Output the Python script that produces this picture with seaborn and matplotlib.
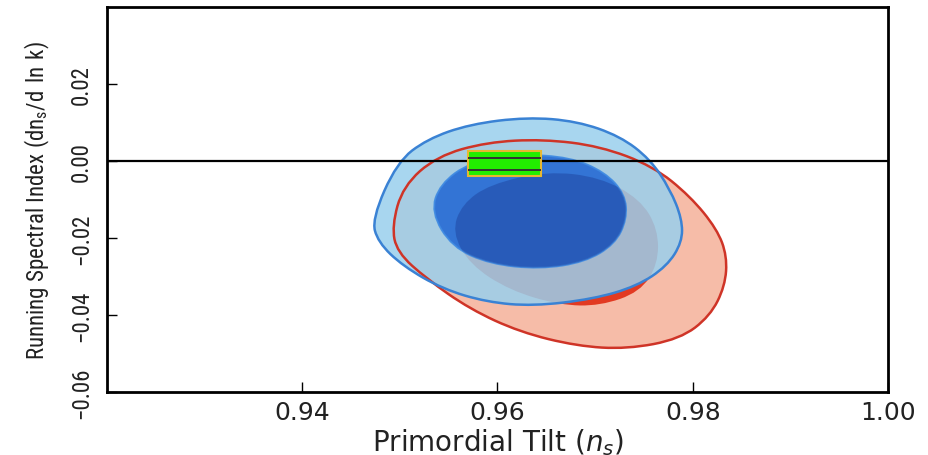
import numpy as np
import pandas as pd
import matplotlib
matplotlib.use("Agg")
import matplotlib.pyplot as plt
import seaborn as sns
from matplotlib import font_manager
from matplotlib.font_manager import FontProperties
from matplotlib.path import Path
from matplotlib.patches import PathPatch

# ---------------- data ----------------
# Red (data set A) 95% contour
red95_ns = [0.94919, 0.95032, 0.95380, 0.95892, 0.96466, 0.97050, 0.97593, 0.97972,
            0.98248, 0.98351, 0.98330, 0.98177, 0.97869, 0.97326, 0.96814, 0.96230,
            0.95718, 0.95278, 0.94971]
red95_run = [-0.01688, -0.00649, 0.00130, 0.00494, 0.00571, 0.00390, -0.00130, -0.00909,
             -0.01766, -0.02468, -0.03247, -0.04026, -0.04623, -0.04883, -0.04805, -0.04442,
             -0.03844, -0.03065, -0.02364]
# Red 68% contour
red68_ns = [0.95534, 0.95636, 0.95923, 0.96507, 0.97050, 0.97460, 0.97644, 0.97644,
            0.97460, 0.97050, 0.96640, 0.96128, 0.95718]
red68_run = [-0.01844, -0.01117, -0.00600, -0.00260, -0.00416, -0.00987, -0.01766, -0.02675,
             -0.03400, -0.03760, -0.03740, -0.03360, -0.02690]
# Blue (data set B) 95% contour
blue95_ns = [0.94714, 0.94971, 0.95278, 0.95718, 0.96302, 0.96814, 0.97255, 0.97562,
             0.97767, 0.97890, 0.97890, 0.97736, 0.97429, 0.96978, 0.96364, 0.95892,
             0.95442, 0.95032, 0.94776]
blue95_run = [-0.01506, -0.00026, 0.00571, 0.00961, 0.01143, 0.01039, 0.00649, 0.00052,
              -0.00727, -0.01506, -0.02104, -0.02727, -0.03247, -0.03584, -0.03766, -0.03662,
              -0.03325, -0.02727, -0.02104]
# Blue 68% contour
blue68_ns = [0.95319, 0.95411, 0.95718, 0.96230, 0.96743, 0.97101, 0.97306, 0.97326,
             0.97203, 0.96896, 0.96435, 0.95923, 0.95534]
blue68_run = [-0.01325, -0.00597, -0.00026, 0.00182, 0.00104, -0.00286, -0.00857, -0.01506,
              -0.02156, -0.02623, -0.02805, -0.02675, -0.02234]
# Prediction box
box_ns = [0.957, 0.9645]
box_run = [-0.0038, 0.0026]
box_line_run = [0.0008, -0.0023]

xticks = [0.94, 0.96, 0.98, 1.00]
yticks = [-0.06, -0.04, -0.02, 0.00, 0.02]
xlim = (0.92, 1.00)
ylim = (-0.06, 0.04)

# ---------------- style ----------------
sns.set_theme(style="white")
plt.rcParams['font.family'] = ['DejaVu Sans']
plt.rcParams['mathtext.fontset'] = 'dejavusans'


def find_condensed():
    pref = ['liberation sans narrow', 'dejavu sans condensed', 'roboto condensed',
            'open sans condensed', 'noto sans condensed', 'noto sans', 'open sans',
            'roboto', 'inter', 'lato', 'dejavu sans']
    found = []
    for f in font_manager.fontManager.ttflist:
        nm = f.name.lower()
        st = str(f.stretch).lower()
        cond = ('narrow' in nm or 'condensed' in nm or
                st in ('condensed', 'extra-condensed', 'semi-condensed', 'ultra-condensed'))
        if not cond or f.style != 'normal':
            continue
        if f.weight not in (400, 'normal', 'regular', 'book'):
            continue
        if 'mono' in nm or 'serif' in nm:
            continue
        rank = len(pref)
        for i, p in enumerate(pref):
            if nm.startswith(p):
                rank = i
                break
        srank = {'condensed': 0, 'semi-condensed': 1, 'extra-condensed': 2}.get(st, 3)
        found.append((rank, srank, f))
    if not found:
        return None
    found.sort(key=lambda t: (t[0], t[1]))
    return found[0][2]


cf = find_condensed()
if cf is not None:
    nar_tick = FontProperties(fname=cf.fname, size=16.5)
    nar_lab = FontProperties(fname=cf.fname, size=16.5)
    ylabel_text = r'Running Spectral Index $\mathregular{(dn_s/d\ ln\ k)}$'
else:
    nar_tick = FontProperties(family=['Liberation Sans', 'DejaVu Sans'], size=13)
    nar_lab = FontProperties(family=['Liberation Sans', 'DejaVu Sans'], size=14)
    ylabel_text = r'Running Spectral Index $(dn_s/d\,\ln\,k)$'

fig, ax = plt.subplots(figsize=(9.29, 4.56), dpi=100)
fig.subplots_adjust(left=0.115, right=0.956, bottom=0.138, top=0.982)


def smooth_path(xs, ys):
    """Closed smooth outline using the read contour vertices as quadratic control points."""
    P = np.column_stack([xs, ys])
    n = len(P)
    M = (P + np.roll(P, -1, axis=0)) / 2.0
    verts = [M[-1]]
    codes = [Path.MOVETO]
    for i in range(n):
        verts += [P[i], M[i]]
        codes += [Path.CURVE3, Path.CURVE3]
    verts.append(M[-1])
    codes.append(Path.CLOSEPOLY)
    return Path(np.array(verts), codes)


red_edge = '#cf3427'
blue_edge = '#3a82d4'

p_r95 = smooth_path(red95_ns, red95_run)
p_r68 = smooth_path(red68_ns, red68_run)
p_b95 = smooth_path(blue95_ns, blue95_run)
p_b68 = smooth_path(blue68_ns, blue68_run)

ax.add_patch(PathPatch(p_r95, facecolor='#f6bca8', edgecolor='none', zorder=1))
ax.add_patch(PathPatch(p_r68, facecolor='#e23a22', edgecolor='none', zorder=2))
ax.add_patch(PathPatch(p_b95, facecolor=(0.60, 0.81, 0.93), alpha=0.85,
                       edgecolor='none', zorder=3))
ax.add_patch(PathPatch(p_r95, facecolor='none', edgecolor=red_edge, lw=1.8, zorder=3.2))
ax.add_patch(PathPatch(p_b95, facecolor='none', edgecolor=blue_edge, lw=1.8, zorder=3.5))
b68 = PathPatch(p_b68, facecolor=(0.15, 0.42, 0.83), alpha=0.9,
                edgecolor='#3f8ae2', lw=1.3, zorder=4)
ax.add_patch(b68)
# darker shading where the two 68% regions overlap
ov = PathPatch(p_r68, facecolor=(0.08, 0.16, 0.5), alpha=0.3, edgecolor='none', zorder=4.2)
ax.add_patch(ov)
ov.set_clip_path(p_b68, ax.transData)

ax.axhline(0.0, color='black', lw=1.6, zorder=5)

ax.fill([box_ns[0], box_ns[1], box_ns[1], box_ns[0]],
        [box_run[0], box_run[0], box_run[1], box_run[1]],
        facecolor='#22ee00', edgecolor='#e8b830', lw=1.5, zorder=6)
ax.hlines(box_line_run, box_ns[0], box_ns[1], colors='#333333', lw=1.4, zorder=7)

ax.set_xlim(*xlim)
ax.set_ylim(*ylim)
ax.set_xticks(xticks)
ax.set_yticks(yticks)
ax.set_xticklabels([f"{v:.2f}" for v in xticks], fontsize=18, color='#222222')
ax.set_yticklabels([f"{v:.2f}".replace('-', '\u2212') for v in yticks],
                   fontproperties=nar_tick, rotation=90, va='center', color='#222222')

ax.tick_params(axis='both', direction='in', length=7, width=1, top=False, right=False,
               left=True, bottom=True, colors='black')
ax.tick_params(axis='x', pad=6, labelcolor='#222222')
ax.tick_params(axis='y', pad=10, labelcolor='#222222')
for s in ax.spines.values():
    s.set_color('black')
    s.set_linewidth(2)

xl = ax.set_xlabel(r'Primordial Tilt ($n_s$)', fontsize=20, labelpad=1, color='#222222')
ax.set_ylabel(ylabel_text, fontproperties=nar_lab, labelpad=13, color='#222222')

fig.savefig('out.png', dpi=100, facecolor='white')
